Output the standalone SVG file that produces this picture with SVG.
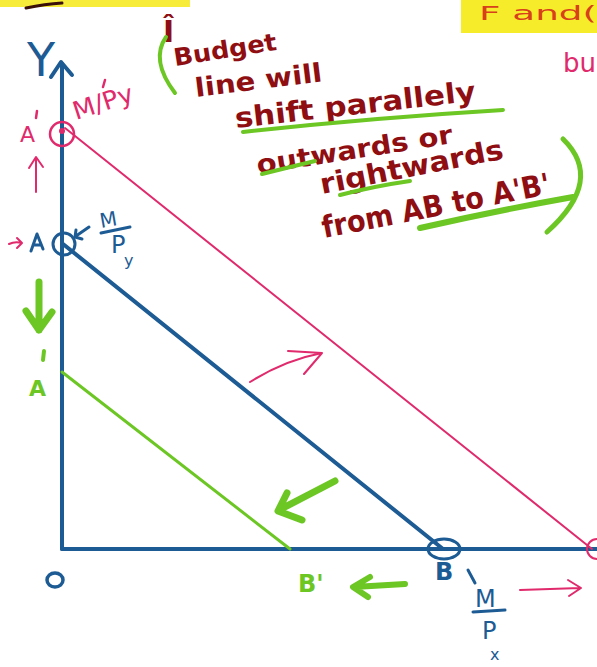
<svg xmlns="http://www.w3.org/2000/svg" width="597" height="667" viewBox="0 0 597 667">
<defs>
<style>
.hand{font-family:"DejaVu Sans","Liberation Sans",sans-serif;}
.red{fill:#8e0e12;font-weight:bold;}
.blue{fill:#1d5b94;}
.pink{fill:#e02a6c;}
.green{fill:#6cc623;font-weight:bold;}
.bl{stroke:#1d5b94;fill:none;stroke-linecap:round;stroke-linejoin:round;}
.pk{stroke:#e02a6c;fill:none;stroke-linecap:round;stroke-linejoin:round;}
.gr{stroke:#6cc623;fill:none;stroke-linecap:round;stroke-linejoin:round;}
</style>
</defs>
<rect width="597" height="667" fill="#ffffff"/>

<g id="highlight-left">
<rect x="0" y="0" width="190" height="7" fill="#f7ec3a"/>
<path d="M26,8 Q45,4 62,3" stroke="#3a1008" stroke-width="3" fill="none" stroke-linecap="round"/>
</g>
<g id="highlight-right">
<rect x="461" y="0" width="136" height="33" fill="#f7ec2a"/>
<text class="hand" x="479" y="20" font-size="20" fill="#d8401c" textLength="118" lengthAdjust="spacingAndGlyphs">F and(</text>
</g>
<g id="bu-label">
<text class="hand pink" x="563" y="72" font-size="26">bu</text>
</g>

<g id="connectors">
<path class="bl" stroke-width="4" d="M62,549 L62,64"/>
<path class="bl" stroke-width="4" d="M51,77 L61,62 L72,75"/>
<path class="bl" stroke-width="4" d="M62,549 L597,549"/>
<path class="bl" stroke-width="4" d="M63,244 L443,549"/>
<path class="pk" stroke-width="2" d="M65,128 L592,549"/>
<path class="gr" stroke-width="3" d="M62,372 L290,549"/>
<path class="pk" stroke-width="2" d="M36,192 L36,158 M29,168 L36,157 L43,167"/>
<path class="pk" stroke-width="2" d="M9,244 Q15,241 22,243 M17,238 L22,243 L17,248"/>
<path class="pk" stroke-width="2" d="M250,382 Q285,360 322,353 M288,351 L322,353 L304,374"/>
<path class="pk" stroke-width="2" d="M520,590 L580,588 M568,580 L581,588 L569,596"/>
<path class="gr" stroke-width="7" d="M39,282 L39,330 M26,311 L39,330 L52,312"/>
<path class="gr" stroke-width="7" d="M335,481 L279,510 M287,493 L278,511 L302,520"/>
<path class="gr" stroke-width="6" d="M405,584 L354,587 M370,577 L353,587 L368,597"/>
<path class="bl" stroke-width="3" d="M89,227 L76,236 M76,230 L75,237 L82,239"/>
</g>

<g id="point-A-prime">
<circle cx="62" cy="134" r="12" class="pk" stroke-width="2.5"/>
<circle cx="62" cy="131" r="3" fill="#e02a6c"/>
<text class="hand pink" x="20" y="142" font-size="22">A</text>
<path class="pk" stroke-width="2.5" d="M37,111 L36,118"/>
</g>
<g id="label-M-prime-Py">
<text class="hand pink" x="76" y="120" font-size="25" textLength="62" lengthAdjust="spacingAndGlyphs" transform="rotate(-18 76 120)">M/Py</text>
<path class="pk" stroke-width="2.5" d="M105,80 L103,87"/>
</g>
<g id="label-Y">
<text class="hand blue" x="27" y="76" font-size="46" font-family="Liberation Sans">Y</text>
</g>
<g id="point-A">
<circle cx="64" cy="244" r="11" class="bl" stroke-width="3"/>
<path class="bl" stroke-width="3" d="M31,251 L37,234 L43,249 M33,245 L41,245"/>
</g>
<g id="label-M-Py">
<text class="hand blue" x="101" y="228" font-size="20" transform="rotate(-10 101 228)">M</text>
<path class="bl" stroke-width="3" d="M101,233 L130,227"/>
<text class="hand blue" x="111" y="253" font-size="24">P</text>
<text class="hand blue" x="124" y="266" font-size="16">y</text>
</g>
<g id="point-A-double-prime">
<text class="green hand" x="29" y="396" font-size="22">A</text>
<path class="gr" stroke-width="4" d="M44,351 L43,360"/>
</g>
<g id="origin">
<ellipse cx="55" cy="580" rx="8" ry="7" class="bl" stroke-width="3.5"/>
</g>
<g id="point-B-prime">
<text class="green hand" x="298" y="592" font-size="24">B'</text>
</g>
<g id="point-B">
<ellipse cx="444" cy="549" rx="16" ry="10" class="bl" stroke-width="3"/>
<text class="hand blue" x="435" y="580" font-size="24" font-weight="bold">B</text>
<path class="bl" stroke-width="3" d="M468,570 L475,583"/>
</g>
<g id="label-M-Px">
<text class="hand blue" x="475" y="607" font-size="24">M</text>
<path class="bl" stroke-width="3" d="M473,612 L505,610"/>
<text class="hand blue" x="482" y="639" font-size="24">P</text>
<text class="hand blue" x="490" y="660" font-size="16">x</text>
</g>
<g id="point-B-prime-pink">
<ellipse cx="597" cy="549" rx="10" ry="10" class="pk" stroke-width="2"/>
</g>

<g id="annotation">
<text class="hand red" x="163" y="42" font-size="30">Î</text>
<path class="gr" stroke-width="4" d="M166,37 Q150,60 175,93"/>
<text class="hand red" x="175" y="66" font-size="24" textLength="104" lengthAdjust="spacingAndGlyphs" transform="rotate(-9 175 66)">Budget</text>
<text class="hand red" x="196" y="97" font-size="26" textLength="128" lengthAdjust="spacingAndGlyphs" transform="rotate(-7 196 97)">line will</text>
<text class="hand red" x="236" y="128" font-size="28" textLength="242" lengthAdjust="spacingAndGlyphs" transform="rotate(-6.5 236 128)">shift parallely</text>
<path class="gr" stroke-width="4" d="M243,132 Q370,118 503,110"/>
<text class="hand red" x="258" y="174" font-size="26" textLength="198" lengthAdjust="spacingAndGlyphs" transform="rotate(-9 258 174)">outwards or</text>
<path class="gr" stroke-width="4" d="M262,174 Q290,167 315,161"/>
<text class="hand red" x="322" y="194" font-size="28" textLength="186" lengthAdjust="spacingAndGlyphs" transform="rotate(-11 322 194)">rightwards</text>
<path class="gr" stroke-width="4" d="M340,195 Q375,186 410,181"/>
<text class="hand red" x="324" y="238" font-size="30" textLength="232" lengthAdjust="spacingAndGlyphs" transform="rotate(-11 324 238)">from AB to A'B'</text>
<path class="gr" stroke-width="6" d="M420,228 Q500,210 573,197"/>
<path class="gr" stroke-width="5" d="M563,139 Q605,180 547,232"/>
</g>
</svg>
